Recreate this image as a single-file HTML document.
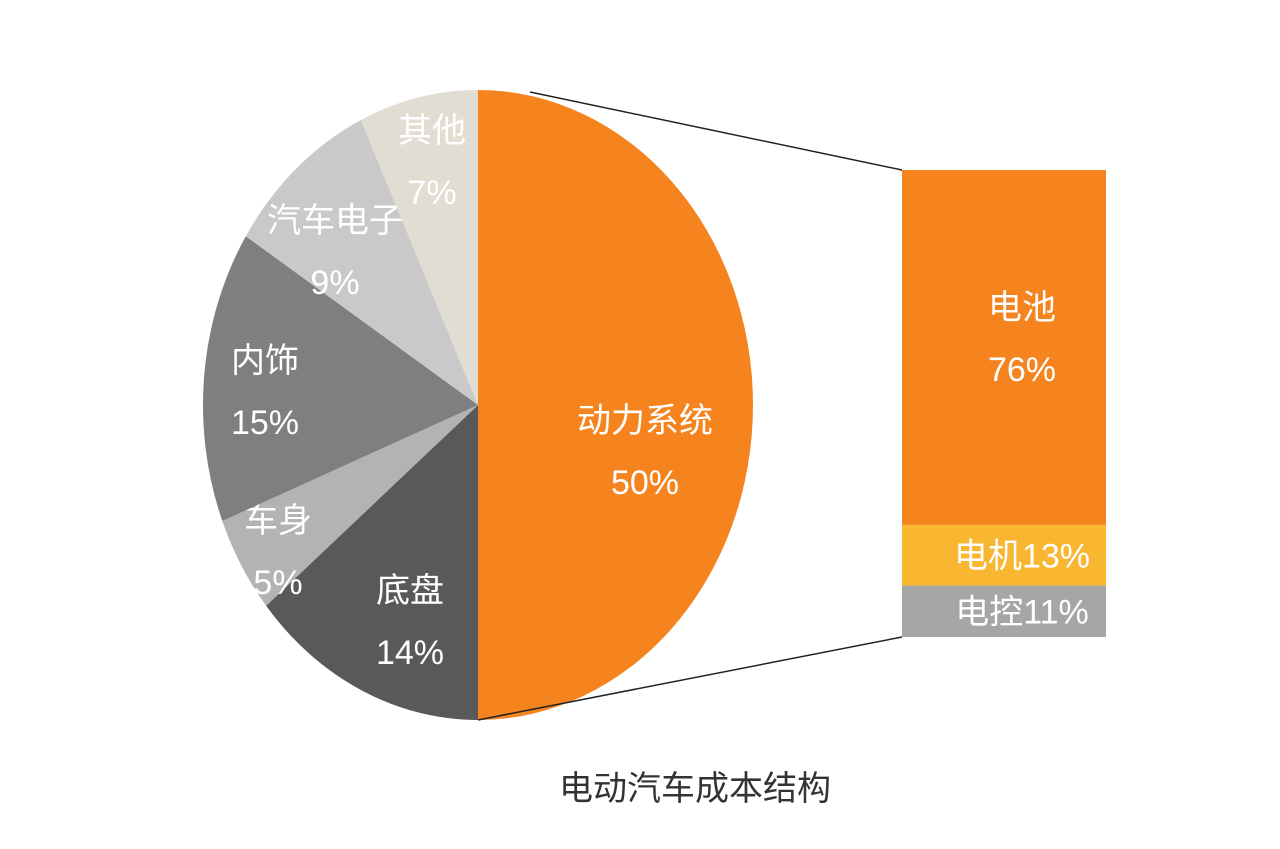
<!DOCTYPE html>
<html><head><meta charset="utf-8"><style>
body{margin:0;background:#fff;width:1280px;height:844px;overflow:hidden}
text{font-family:"Liberation Sans","Noto Sans CJK SC",sans-serif}
</style></head><body>
<svg width="1280" height="844" viewBox="0 0 1280 844">
<g id="pie"></g>
<g id="bar"></g>
<text x="695" y="800" font-size="34" fill="#333" text-anchor="middle">电动汽车成本结构</text>
</svg>
<script>
const pieLabels=["动力系统","底盘","车身","内饰","汽车电子","其他"];
const pieValues=[50,14,5,15,9,7];
const barLabels=["电池","电机","电控"];
const barValues=[76,13,11];
const pieColors=["#f5841f","#595959","#b3b3b3","#7f7f7f","#c9c9c9","#e2ddd2"];
const barColors=["#f5841f","#f8b631","#a6a6a6"];
const NS="http://www.w3.org/2000/svg";
const cx=478,cy=405,rx=275,ry=315;
function pt(a,k){return [cx+rx*k*Math.sin(a),cy-ry*k*Math.cos(a)];}
const pie=document.getElementById('pie');
const tot=pieValues.reduce((a,b)=>a+b,0);
let acc=0;
const labelPos=[[645,450],[410,620],[278,550],[265,390],[335,250],[432,160]];
pieValues.forEach((v,i)=>{
 const a0=acc/tot*2*Math.PI,a1=(acc+v)/tot*2*Math.PI;acc+=v;
 const p0=pt(a0,1),p1=pt(a1,1);
 const path=document.createElementNS(NS,'path');
 path.setAttribute('d',`M${cx},${cy}L${p0[0]},${p0[1]}A${rx},${ry} 0 ${a1-a0>Math.PI?1:0} 1 ${p1[0]},${p1[1]}Z`);
 path.setAttribute('fill',pieColors[i]);
 
 
 pie.appendChild(path);
 const lp=labelPos[i];
 const t=document.createElementNS(NS,'text');
 
 
 t.setAttribute('x',lp[0]);t.setAttribute('y',lp[1]);
 t.setAttribute('text-anchor','middle');t.setAttribute('font-size','34');t.setAttribute('fill','#fff');
 t.innerHTML=`<tspan x="${lp[0]}" dy="-18">${pieLabels[i]}</tspan><tspan x="${lp[0]}" dy="62">${v}%</tspan>`;
 pie.appendChild(t);
});
const bar=document.getElementById('bar');
const bx=902,bw=204,by=170,bh=467;
const btot=barValues.reduce((a,b)=>a+b,0);
let y=by;
barValues.forEach((v,i)=>{
 const h=v/btot*bh;
 const r=document.createElementNS(NS,'rect');
 r.setAttribute('x',bx);r.setAttribute('y',y);r.setAttribute('width',bw);r.setAttribute('height',h);
 r.setAttribute('fill',barColors[i]);
 
 
 bar.appendChild(r);
 const t=document.createElementNS(NS,'text');
 
 
 t.setAttribute('font-size','34');t.setAttribute('fill','#fff');t.setAttribute('text-anchor','middle');
 if(i===0){t.innerHTML=`<tspan x="1022" y="${y+h*0.42}">${barLabels[i]}</tspan><tspan x="1022" y="${y+h*0.42+62}">${v}%</tspan>`;}
 else{t.setAttribute('x',1022);t.setAttribute('y',y+h/2+12);t.textContent=barLabels[i]+v+'%';}
 bar.appendChild(t);
 y+=h;
});
[[530,92,bx,by],[478,720,bx,by+bh]].forEach((l,i)=>{
 const ln=document.createElementNS(NS,'line');
 ln.setAttribute('x1',l[0]);ln.setAttribute('y1',l[1]);ln.setAttribute('x2',l[2]);ln.setAttribute('y2',l[3]);
 ln.setAttribute('stroke','#222');ln.setAttribute('stroke-width','1.5');
 
 
 bar.appendChild(ln);
});
</script>
</body></html>
